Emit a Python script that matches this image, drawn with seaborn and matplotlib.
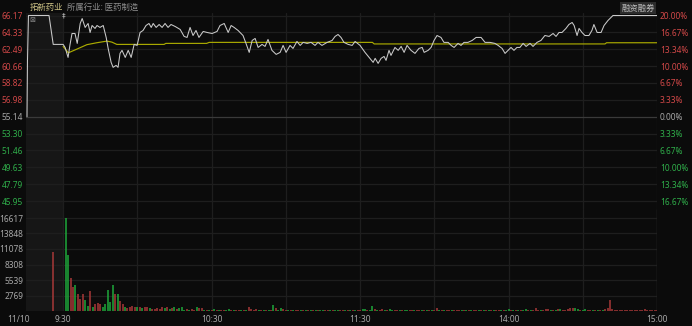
import numpy as np
import pandas as pd
import matplotlib
matplotlib.use("Agg")
import matplotlib.pyplot as plt
import seaborn as sns

# ---------------- data ----------------
stock_name = "拓新药业"
industry = "所属行业: 医药制造"
margin_tag = "融资融券"
date_label = "11/10"
prev_close = 55.14

price_levels = [66.17, 64.33, 62.49, 60.66, 58.82, 56.98, 55.14, 53.30, 51.46, 49.63, 47.79, 45.95]
pct_labels = ["20.00%", "16.67%", "13.34%", "10.00%", "6.67%", "3.33%", "0.00%",
              "3.33%", "6.67%", "10.00%", "13.34%", "16.67%"]
vol_levels = [16617, 13848, 11078, 8308, 5539, 2769]
time_ticks = [0, 60, 120, 180, 240]
time_labels = ["9:30", "10:30", "11:30", "14:00", "15:00"]
grid_minutes = [0, 30, 60, 90, 120, 150, 180, 210, 240]

# call auction (minutes relative to 9:30)
pre_t = [-14.6, -14.4, -14.0, -5.7, -4.0]
pre_p = [55.14, 61.30, 66.17, 66.17, 63.02]

# continuous session (minutes after 9:30, lunch break removed)
price_t = [0, 0.8, 2.0, 2.8, 3.6, 4.8, 5.7, 6.9, 7.7, 8.9, 10.1, 10.9, 11.7, 12.9, 13.7, 14.9,
           16.2, 17.4, 18.2, 19.4, 20.2, 21.4, 22.2, 23.0, 23.8, 25.1, 26.3, 27.5, 28.7, 29.9,
           31.1, 32.3, 33.5, 34.7, 35.6, 36.4, 37.6, 38.8, 40.0, 41.2, 42.4, 43.6, 45.3, 47.3,
           48.9, 50.1, 51.3, 52.5, 53.7, 54.9, 56.6, 58.2, 60.2, 62.2, 63.4, 65.1, 66.7, 67.9,
           69.1, 70.7, 72.7, 73.9, 75.2, 76.4, 77.6, 78.8, 80.4, 81.6, 82.8, 84.4, 86.1, 87.7,
           88.9, 90.1, 91.7, 92.9, 94.5, 95.8, 97.0, 98.6, 100.2, 101.8, 103.0, 104.6, 106.7,
           108.7, 109.9, 111.1, 112.3, 113.5, 115.2, 116.8, 118.0, 120.0, 122.0, 124.0, 125.3,
           126.1, 127.3, 128.5, 129.7, 130.5, 131.7, 132.5, 134.1, 135.4, 136.6, 137.8, 139.0,
           140.6, 142.2, 143.8, 145.1, 145.9, 147.5, 148.7, 149.9, 151.1, 152.7, 153.9, 155.6,
           156.8, 158.0, 159.6, 160.8, 162.0, 163.6, 165.3, 166.9, 168.9, 170.5, 172.5, 174.5,
           175.8, 177.4, 178.6, 179.8, 181.0, 182.2, 183.4, 184.6, 185.9, 187.1, 188.7, 189.9,
           191.5, 193.1, 194.7, 196.4, 198.0, 199.2, 200.4, 201.6, 203.2, 204.4, 205.7, 206.5,
           207.7, 208.5, 209.7, 210.9, 212.5, 213.7, 214.5, 215.8, 217.4, 218.6, 220.2, 222.2, 240]
price_p = [63.02, 62.69, 61.60, 63.02, 64.21, 64.21, 63.13, 65.30, 65.84, 64.87, 65.30, 64.32,
           65.08, 64.76, 65.08, 64.87, 65.08, 63.78, 62.58, 61.06, 60.52, 60.73, 60.52, 62.04,
           62.37, 61.60, 62.37, 61.60, 63.02, 62.91, 64.32, 64.54, 65.08, 65.30, 64.87, 65.30,
           64.87, 65.19, 64.87, 65.30, 64.87, 65.19, 64.97, 64.65, 63.89, 63.78, 64.87, 63.99,
           64.54, 63.78, 64.43, 64.32, 64.21, 64.43, 65.08, 65.30, 64.32, 65.08, 64.87, 64.54,
           63.99, 63.13, 62.15, 63.45, 63.67, 62.69, 63.02, 62.80, 63.56, 62.37, 61.93, 62.15,
           62.91, 62.15, 62.91, 62.58, 63.34, 62.91, 63.24, 63.13, 63.24, 62.91, 63.24, 62.91,
           63.24, 63.45, 63.89, 64.10, 63.78, 63.24, 63.02, 62.91, 63.34, 62.91, 62.15, 61.50,
           61.06, 61.50, 60.95, 61.50, 61.71, 61.28, 62.37, 61.82, 62.69, 62.37, 62.80, 62.15,
           62.91, 62.37, 62.04, 62.58, 62.69, 62.15, 62.37, 62.69, 63.45, 63.99, 63.78, 63.24,
           63.24, 62.91, 62.69, 63.13, 62.91, 63.24, 63.24, 63.45, 63.78, 63.78, 63.24, 63.24,
           63.13, 62.91, 62.58, 62.04, 62.37, 62.69, 62.37, 62.69, 62.69, 63.13, 62.80, 63.13,
           62.80, 63.24, 63.45, 63.99, 63.89, 64.21, 63.89, 64.32, 64.32, 64.76, 65.19, 65.41,
           65.08, 63.99, 64.76, 64.32, 63.99, 63.99, 64.54, 65.19, 64.32, 64.32, 65.08, 65.63,
           66.17, 66.17]

avg_t = [0, 2.1, 5.5, 9.6, 13.6, 17.7, 19.7, 21.7, 40.8, 41.5, 58.0, 59.0, 125.0, 125.7,
         219.0, 219.6, 240]
avg_p = [62.80, 62.10, 62.50, 62.99, 63.20, 63.38, 63.27, 63.02, 63.02, 63.13, 63.13, 63.24,
         63.24, 63.07, 63.07, 63.20, 63.20]

pre_vol_t = [-4]
pre_vol = [10600]
pre_vol_dir = "r"

vol = [16600, 10000, 5950, 4340, 4590, 3040, 2140, 3040, 1970, 890,
       3570, 770, 1200, 1380, 1250, 770, 1250, 3750, 1660, 4650,
       3040, 3090, 1790, 1250, 660, 620, 770, 890, 770, 770,
       660, 500, 770, 660, 450, 400, 400, 500, 400, 660,
       450, 660, 340, 500, 660, 340, 450, 660, 250, 340,
       250, 340, 250, 660, 500, 590, 200, 250, 180, 220,
       350, 180, 200, 250, 250, 180, 350, 200, 230, 180,
       200, 250, 180, 220, 710, 300, 200, 300, 180, 220,
       200, 180, 250, 200, 1070, 540, 200, 540, 300, 200,
       180, 220, 200, 180, 250, 200, 180, 200, 220, 180,
       200, 180, 220, 200, 180, 250, 180, 200, 180, 220,
       180, 200, 220, 180, 200, 180, 200, 220, 180, 250,
       300, 320, 200, 250, 890, 320, 250, 200, 300, 220,
       200, 300, 250, 200, 220, 250, 200, 180, 250, 200,
       180, 200, 220, 250, 180, 200, 220, 180, 200, 250,
       540, 220, 200, 180, 250, 200, 180, 200, 180, 250,
       200, 180, 220, 200, 180, 200, 180, 250, 200, 150,
       180, 200, 180, 220, 200, 180, 200, 250, 220, 360,
       200, 220, 180, 250, 200, 220, 360, 200, 180, 220,
       540, 230, 200, 230, 360, 360, 250, 200, 220, 300,
       360, 230, 230, 420, 540, 480, 590, 360, 230, 250,
       420, 200, 180, 220, 200, 180, 220, 200, 300, 540,
       1970, 300, 230, 150, 120, 100, 120, 100, 110, 100,
       120, 100, 110, 100, 300, 230, 110, 100, 120, 100]
vol_dir = ("ggrrgrrrgg" "rgrrrggggg" "rgrrgrrrrg" "rgrrgrrrrr" "grgrgrgggr" "grrgrrgrgr"
           "grgrrggrgr" "rgrgrrrrgr" "grgrgrggrr" "grgrrgrgrg" "rgrggrrgrg" "grrgrgrgrr"
           "ggrggrgrrg" "rggrrgrggr" "rgrrgrgrgr" "rgrgrrgrrr" "grgrgrrgrg" "rgrgrrgrgg"
           "rgrgrggrgr" "rrgrrrgrgr" "grrrrrggrg" "grrgrgrgrr" "rrrrrrrrrr" "rrrrrrrrrr")

# ---------------- style ----------------
BG = "#0b0b0b"
PRE_BG = "#161616"
GRID = "#1e1e1e"
ZERO = "#3a3a3a"
RED = "#d24848"
GREEN = "#2fae4a"
GRAY = "#a8a8a8"
BAR_RED = "#a83838"
BAR_GREEN = "#1ea83a"

sns.set_theme(style="dark", rc={"axes.facecolor": BG, "figure.facecolor": BG,
                                "axes.edgecolor": GRID, "text.color": GRAY})
plt.rcParams["font.family"] = ["Noto Sans", "Noto Sans CJK SC", "DejaVu Sans"]
FS = 6

W, H = 692, 326
fig = plt.figure(figsize=(W / 100, H / 100), dpi=100)
fig.patch.set_facecolor(BG)

x_left, x_right = 26, 657
price_top, split, vol_base = 13, 209, 311
px_per_unit = (201 - 15.5) / 11 / 1.838
ymax = 66.17 + (15.5 - price_top) / px_per_unit
ymin = 66.17 - (split - 15.5) / px_per_unit

ax = fig.add_axes([x_left / W, 1 - split / H, (x_right - x_left) / W, (split - price_top) / H])
axv = fig.add_axes([x_left / W, 1 - vol_base / H, (x_right - x_left) / W, (vol_base - split) / H])

vol_px = (vol_base - 218) / 16617
vmax = (vol_base - split) / vol_px

for a in (ax, axv):
    a.set_facecolor(BG)
    a.set_xlim(-15, 240)
    a.axvspan(-15, 0, color=PRE_BG, zorder=0, lw=0)
    for g in grid_minutes:
        a.axvline(g, color=GRID, lw=0.9, zorder=0.5)
    for s in a.spines.values():
        s.set_visible(False)
    a.tick_params(length=0)
    a.grid(False)

ax.set_ylim(ymin, ymax)
for lv in price_levels:
    ax.axhline(lv, color=ZERO if lv == prev_close else GRID, lw=0.9, zorder=0.6)

# price & average lines
all_t = pre_t + price_t
all_p = pre_p + price_p
df_price = pd.DataFrame({"t": all_t, "p": all_p})
df_avg = pd.DataFrame({"t": avg_t, "p": avg_p})
sns.lineplot(data=df_avg, x="t", y="p", ax=ax, color="#aaaa00", lw=0.85,
             estimator=None, sort=False, zorder=3)
sns.lineplot(data=df_price, x="t", y="p", ax=ax, color="#cacaca", lw=0.75,
             estimator=None, sort=False, zorder=4)

ax.set_yticks(price_levels)
ax.set_yticklabels([f"{v:.2f}" for v in price_levels], fontsize=FS)
for lab, v in zip(ax.get_yticklabels(), price_levels):
    lab.set_color(RED if v > prev_close else (GREEN if v < prev_close else GRAY))
ax.tick_params(axis="y", pad=2)
ax.set_xticks([])
ax.set_xlabel("")
ax.set_ylabel("")

ax2 = ax.twinx()
ax2.set_ylim(ymin, ymax)
ax2.set_yticks(price_levels)
ax2.set_yticklabels(pct_labels, fontsize=FS)
for lab, v in zip(ax2.get_yticklabels(), price_levels):
    lab.set_color(RED if v > prev_close else (GREEN if v < prev_close else GRAY))
ax2.tick_params(length=0, pad=2)
ax2.grid(False)
for s in ax2.spines.values():
    s.set_visible(False)

# volume
axv.set_ylim(0, vmax)
for lv in vol_levels:
    axv.axhline(lv, color=GRID, lw=0.9, zorder=0.6)
bar_t = pre_vol_t + list(range(1, len(vol) + 1))
bar_v = pre_vol + vol
bar_c = [BAR_RED if c == "r" else BAR_GREEN for c in pre_vol_dir + vol_dir]
axv.vlines(bar_t, 0, bar_v, colors=bar_c, lw=1.1, zorder=3)
axv.set_yticks(vol_levels)
axv.set_yticklabels([str(v) for v in vol_levels], fontsize=FS, color=GRAY)
axv.tick_params(axis="y", pad=2)
axv.set_xticks(time_ticks)
axv.set_xticklabels(time_labels, fontsize=FS, color=GRAY)
axv.tick_params(axis="x", pad=3)
axv.set_xlabel("")
axv.set_ylabel("")
axv.axvline(240, color="#2a2a2a", lw=1.0, zorder=0.7)

# header and decorations
fig.text(30 / W, 1 - 7.5 / H, stock_name, fontsize=FS, color="#cfc486",
         family=["Noto Sans CJK SC"], va="center", ha="left")
fig.text(67 / W, 1 - 7.5 / H, industry, fontsize=FS, color="#8e8e8e",
         family=["Noto Sans CJK SC"], va="center", ha="left")
fig.text(655 / W, 1 - 8 / H, margin_tag, fontsize=FS, color="#bdbdbd",
         family=["Noto Sans CJK SC"], va="center", ha="right",
         bbox=dict(boxstyle="square,pad=0.15", fc="#2c2c2c", ec="none"))
fig.text(19 / W, 1 - 319 / H, date_label, fontsize=FS, color=GRAY, va="center", ha="center")
fig.text(32 / W, 1 - 20 / H, "⊠", fontsize=5, color="#8a8a8a", family=["DejaVu Sans"],
         va="center", ha="center")
fig.text(63.5 / W, 1 - 15 / H, "‡", fontsize=5, color="#d0d0d0", family=["DejaVu Sans"],
         va="center", ha="center")

fig.savefig("out.png", dpi=100, facecolor=BG)
